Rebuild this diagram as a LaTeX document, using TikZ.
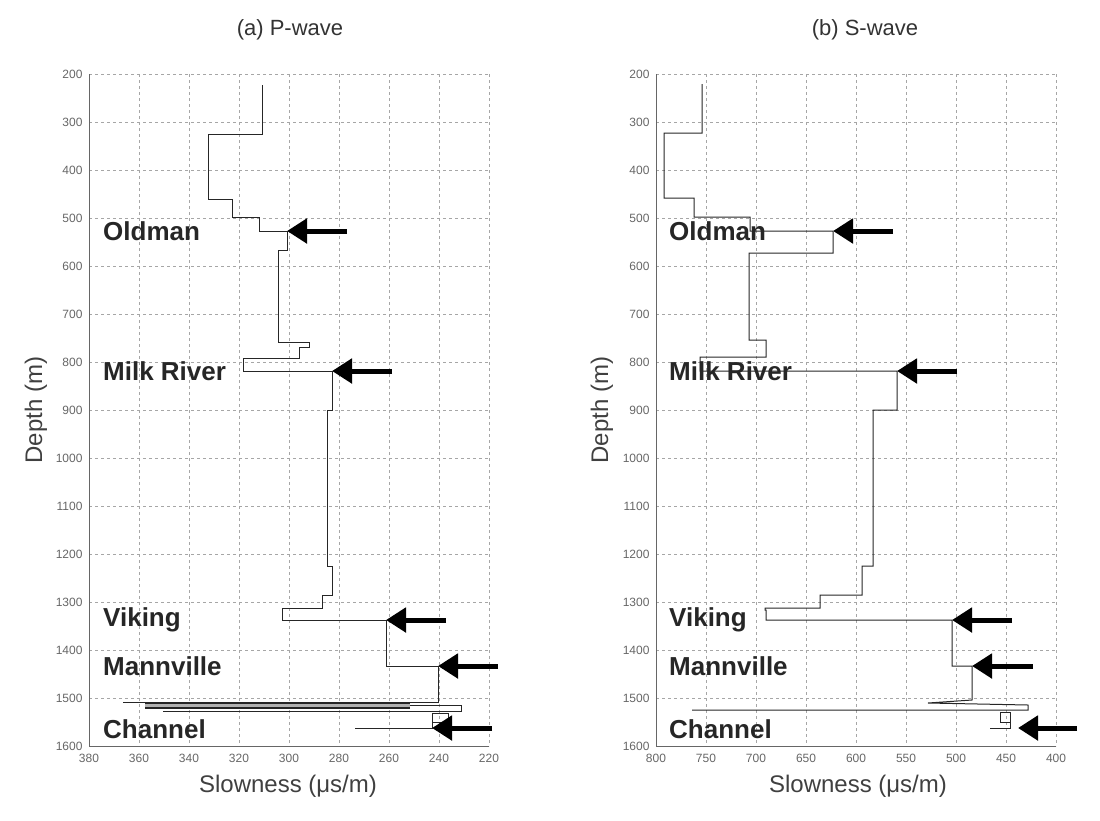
\documentclass[tikz,border=0pt]{standalone}
\usepackage{fontspec}
\setmainfont{Liberation Sans}
\usetikzlibrary{arrows.meta}
\begin{document}
\begin{tikzpicture}[x=1pt,y=-1pt,
  grid/.style={gray!70,dashed,line width=0.6pt},
  axisl/.style={gray!80!black,line width=0.8pt},
  trace/.style={black!85,line width=1pt},
  tick/.style={font=\fontsize{12}{12}\selectfont,text=gray!80!black},
  form/.style={font=\bfseries\fontsize{26}{26}\selectfont,text=black!85,anchor=west,inner sep=0pt},
  bigarrow/.style={line width=5pt,-{Triangle[length=20pt,width=24pt]},black},
  title/.style={font=\fontsize{22}{22}\selectfont,text=black!80},
  alabel/.style={font=\fontsize{24}{24}\selectfont,text=black!75}]
\useasboundingbox (0,0) rectangle (1100,820);
% ---- grids
\foreach \i in {0,...,8}{
  \draw[grid] ({89+50*\i},74) -- ({89+50*\i},746);
  \draw[grid] ({656+50*\i},74) -- ({656+50*\i},746);}
\foreach \j in {0,...,14}{
  \draw[grid] (89,{74+48*\j}) -- (489,{74+48*\j});
  \draw[grid] (656,{74+48*\j}) -- (1056,{74+48*\j});}
\draw[axisl] (89,74) -- (89,746) -- (489,746);
\draw[axisl] (656,74) -- (656,746) -- (1056,746);
% ---- tick labels
\foreach \v [count=\k from 0] in {200,300,...,1600}{
  \node[tick,anchor=east] at (86,{74+48*\k}) {\v};
  \node[tick,anchor=east] at (653,{74+48*\k}) {\v};}
\foreach \v [count=\k from 0] in {380,360,...,220}
  \node[tick,anchor=north] at ({89+50*\k},751) {\v};
\foreach \v [count=\k from 0] in {800,750,...,400}
  \node[tick,anchor=north] at ({656+50*\k},751) {\v};
% ---- titles and axis labels
\node[title] (ta) at (290,30) {(a) P-wave};
\node[title] (tb) at (865,30) {(b) S-wave};
\node[alabel] (xa) at (288,786) {Slowness (μs/m)};
\node[alabel] (xb) at (858,786) {Slowness (μs/m)};
\node[alabel,rotate=90] (ya) at (36,410) {Depth (m)};
\node[alabel,rotate=90] (yb) at (602,410) {Depth (m)};
% ---- P-wave trace
\draw[trace] (262,85) -- (262,134) -- (208,134) -- (208,199) -- (232,199) -- (232,217)
  -- (259,217) -- (259,231) -- (287,231) -- (287,250) -- (278,250) -- (278,342)
  -- (309,342) -- (309,347) -- (299,347) -- (299,358) -- (243,358) -- (243,371)
  -- (332,371) -- (332,410) -- (327,410) -- (327,566) -- (332,566) -- (332,595)
  -- (322,595) -- (322,608) -- (282,608) -- (282,620) -- (386,620) -- (386,666)
  -- (438,666) -- (438,702) -- (123,702);
\fill[gray!60] (145,703) rectangle (410,708);
\draw[trace,line width=1.2pt] (145,703) -- (410,703) (145,708) -- (410,708);
\draw[trace] (410,705) -- (461,705) -- (461,711) -- (163,711);
\draw[trace] (432,713) rectangle (448,722);
\draw[trace] (432,722) -- (432,728) -- (355,728);
% ---- S-wave trace
\draw[trace] (702,84) -- (702,133) -- (664,133) -- (664,198) -- (694,198) -- (694,217)
  -- (750,217) -- (750,231) -- (833,231) -- (833,253) -- (749,253) -- (749,340)
  -- (766,340) -- (766,357) -- (700,357) -- (700,371) -- (897,371) -- (897,410)
  -- (873,410) -- (873,566) -- (862,566) -- (862,595) -- (820,595) -- (820,608)
  -- (765,608) -- (765,610) -- (766,610) -- (766,620) -- (952,620) -- (952,666)
  -- (972,666) -- (972,700) -- (928,703) -- (1028,705) -- (1028,710) -- (692,710);
\draw[trace] (1000,712) rectangle (1010,722);
\draw[trace] (1010,722) -- (1010,728) -- (990,728);
% ---- formation labels
\foreach \nm/\yy/\tx in {o/231/Oldman,m/371/Milk River,v/620/Viking,n/666/Mannville,c/729/Channel}{
  \node[form] (la\nm) at (103,\yy) {\tx};
  \node[form] (lb\nm) at (669,\yy) {\tx};}
% ---- arrows
\coordinate (pa1) at (347,231); \coordinate (pb1) at (287,231);
\coordinate (pa2) at (392,371); \coordinate (pb2) at (332,371);
\coordinate (pa3) at (446,620); \coordinate (pb3) at (386,620);
\coordinate (pa4) at (498,666); \coordinate (pb4) at (438,666);
\coordinate (pa5) at (492,728); \coordinate (pb5) at (432,728);
\coordinate (sa1) at (893,231); \coordinate (sb1) at (833,231);
\coordinate (sa2) at (957,371); \coordinate (sb2) at (897,371);
\coordinate (sa3) at (1012,620); \coordinate (sb3) at (952,620);
\coordinate (sa4) at (1033,666); \coordinate (sb4) at (972,666);
\coordinate (sa5) at (1077,728); \coordinate (sb5) at (1018,728);
\foreach \i in {1,...,5}{
  \draw[bigarrow] (pa\i) -- (pb\i);
  \draw[bigarrow] (sa\i) -- (sb\i);}
\end{tikzpicture}
\end{document}
